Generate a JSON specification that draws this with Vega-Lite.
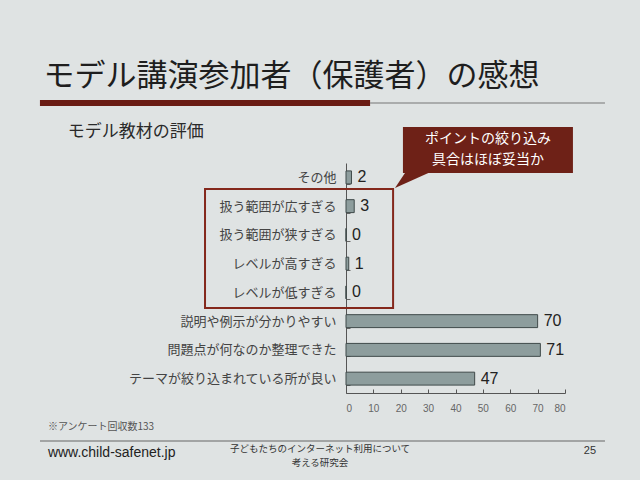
{
  "$schema": "https://vega.github.io/schema/vega-lite/v6.json",
  "width": 219,
  "height": 230,
  "autosize": {"type": "none"},
  "padding": {"left": 346, "top": 163, "right": 75, "bottom": 87},
  "background": "#dfe3e3",
  "config": {"view": {"stroke": null}, "font": "Noto Sans CJK JP", "axisX": {"tickCount": 9, "labelOverlap": false}},
  "resolve": {"scale": {"y": "independent"}},
  "layer": [
    {
      "data": {
        "values": [
          {"item": "その他", "count": 2},
          {"item": "扱う範囲が広すぎる", "count": 3},
          {"item": "扱う範囲が狭すぎる", "count": 0},
          {"item": "レベルが高すぎる", "count": 1},
          {"item": "レベルが低すぎる", "count": 0},
          {"item": "説明や例示が分かりやすい", "count": 70},
          {"item": "問題点が何なのか整理できた", "count": 71},
          {"item": "テーマが絞り込まれている所が良い", "count": 47}
        ]
      },
      "encoding": {
        "y": {
          "field": "item", "type": "nominal", "sort": null,
          "scale": {"paddingInner": 0.55, "paddingOuter": 0.275},
          "axis": {"title": null, "labelFontSize": 13, "labelColor": "#444", "labelFont": "Noto Sans CJK JP",
                   "tickSize": -4, "tickColor": "#666", "domainColor": "#555", "tickBand": "extent",
                   "labelPadding": 14, "labelLimit": 300}
        },
        "x": {
          "field": "count", "type": "quantitative",
          "scale": {"domain": [0, 80]},
          "axis": {"title": null, "values": [0, 10, 20, 30, 40, 50, 60, 70, 80], "tickCount": 9, "grid": false, "labelOverlap": false,
                   "labelFontSize": 10, "labelColor": "#666", "labelFont": "Liberation Sans",
                   "tickSize": -4, "tickColor": "#555", "domainColor": "#555", "labelPadding": 14}
        }
      },
      "layer": [
        {"mark": {"type": "bar", "fill": "#8d9d9d", "stroke": "#3f4a4a", "strokeWidth": 1}},
        {"mark": {"type": "text", "align": "left", "baseline": "middle", "dx": 6, "font": "Liberation Sans", "fontSize": 16, "color": "#222"},
         "encoding": {"text": {"field": "count", "type": "quantitative"}}}
      ]
    },
    {
      "layer": [
        {
          "data": {"values": [{}]},
          "mark": {"type": "rule", "color": "#6a1c14", "strokeWidth": 6, "strokeCap": "butt"},
          "encoding": {
            "x": {"datum": -111.8, "type": "quantitative", "scale": {"domain": [0, 80]}, "title": null},
            "x2": {"datum": 8.8},
            "y": {"datum": -2.087, "type": "quantitative", "scale": {"domain": [0, 8], "reverse": true}, "axis": null}
          }
        },
        {
          "data": {"values": [{}]},
          "mark": {"type": "rule", "color": "#777", "strokeWidth": 1.2},
          "encoding": {
            "x": {"datum": 8.8, "type": "quantitative", "scale": {"domain": [0, 80]}, "title": null},
            "x2": {"datum": 94.6},
            "y": {"datum": -2.087, "type": "quantitative", "scale": {"domain": [0, 8], "reverse": true}, "axis": null}
          }
        },
        {
          "data": {"values": [{}]},
          "mark": {"type": "rule", "color": "#666", "strokeWidth": 1.2},
          "encoding": {
            "x": {"datum": -111.8, "type": "quantitative", "scale": {"domain": [0, 80]}, "title": null},
            "x2": {"datum": 94.6},
            "y": {"datum": 9.67, "type": "quantitative", "scale": {"domain": [0, 8], "reverse": true}, "axis": null}
          }
        },
        {
          "data": {"values": [{"t": "モデル講演参加者（保護者）の感想"}]},
          "mark": {"type": "text", "align": "left", "baseline": "middle", "fontSize": 31, "color": "#1e1e1e"},
          "encoding": {
            "x": {"datum": -110.5, "type": "quantitative", "scale": {"domain": [0, 80]}, "title": null},
            "y": {"datum": -3.0, "type": "quantitative", "scale": {"domain": [0, 8], "reverse": true}, "axis": null},
            "text": {"field": "t"}
          }
        },
        {
          "data": {"values": [{"t": "モデル教材の評価"}]},
          "mark": {"type": "text", "align": "left", "baseline": "middle", "fontSize": 17, "color": "#2a2a2a"},
          "encoding": {
            "x": {"datum": -101.6, "type": "quantitative", "scale": {"domain": [0, 80]}, "title": null},
            "y": {"datum": -1.07, "type": "quantitative", "scale": {"domain": [0, 8], "reverse": true}, "axis": null},
            "text": {"field": "t"}
          }
        },
        {
          "data": {"values": [{}]},
          "mark": {"type": "rect", "color": "#6e2117"},
          "encoding": {
            "x": {"datum": 20.8, "type": "quantitative", "scale": {"domain": [0, 80]}, "title": null},
            "x2": {"datum": 82.9},
            "y": {"datum": -1.252, "type": "quantitative", "scale": {"domain": [0, 8], "reverse": true}, "axis": null},
            "y2": {"datum": 0.348}
          }
        },
        {
          "data": {"values": [{}]},
          "mark": {"type": "point", "shape": "M-1,0.4L-0.4,-0.5L1,-0.5Z", "filled": true, "color": "#6e2117", "opacity": 1, "size": 1600, "strokeWidth": 0},
          "encoding": {
            "x": {"datum": 25.2, "type": "quantitative", "scale": {"domain": [0, 80]}, "title": null},
            "y": {"datum": 0.591, "type": "quantitative", "scale": {"domain": [0, 8], "reverse": true}, "axis": null}
          }
        },
        {
          "data": {"values": [{"t": "ポイントの絞り込み"}]},
          "mark": {"type": "text", "align": "center", "baseline": "middle", "fontSize": 14, "color": "#ffffff"},
          "encoding": {
            "x": {"datum": 51.9, "type": "quantitative", "scale": {"domain": [0, 80]}, "title": null},
            "y": {"datum": -0.83, "type": "quantitative", "scale": {"domain": [0, 8], "reverse": true}, "axis": null},
            "text": {"field": "t"}
          }
        },
        {
          "data": {"values": [{"t": "具合はほぼ妥当か"}]},
          "mark": {"type": "text", "align": "center", "baseline": "middle", "fontSize": 14, "color": "#ffffff"},
          "encoding": {
            "x": {"datum": 51.9, "type": "quantitative", "scale": {"domain": [0, 80]}, "title": null},
            "y": {"datum": -0.1, "type": "quantitative", "scale": {"domain": [0, 8], "reverse": true}, "axis": null},
            "text": {"field": "t"}
          }
        },
        {
          "data": {"values": [{}]},
          "mark": {"type": "rect", "fill": null, "fillOpacity": 0, "stroke": "#84281c", "strokeWidth": 2},
          "encoding": {
            "x": {"datum": -51.5, "type": "quantitative", "scale": {"domain": [0, 80]}, "title": null},
            "x2": {"datum": 17.2},
            "y": {"datum": 0.904, "type": "quantitative", "scale": {"domain": [0, 8], "reverse": true}, "axis": null},
            "y2": {"datum": 5.043}
          }
        },
        {
          "data": {"values": [{"t": "※アンケート回収数133"}]},
          "mark": {"type": "text", "align": "left", "baseline": "middle", "fontSize": 10, "color": "#555"},
          "encoding": {
            "x": {"datum": -108.9, "type": "quantitative", "scale": {"domain": [0, 80]}, "title": null},
            "y": {"datum": 9.18, "type": "quantitative", "scale": {"domain": [0, 8], "reverse": true}, "axis": null},
            "text": {"field": "t"}
          }
        },
        {
          "data": {"values": [{"t": "www.child-safenet.jp"}]},
          "mark": {"type": "text", "align": "left", "baseline": "middle", "fontSize": 14, "font": "Liberation Sans", "color": "#222"},
          "encoding": {
            "x": {"datum": -108.9, "type": "quantitative", "scale": {"domain": [0, 80]}, "title": null},
            "y": {"datum": 10.09, "type": "quantitative", "scale": {"domain": [0, 8], "reverse": true}, "axis": null},
            "text": {"field": "t"}
          }
        },
        {
          "data": {"values": [{"t": "子どもたちのインターネット利用について"}]},
          "mark": {"type": "text", "align": "center", "baseline": "middle", "fontSize": 9.5, "color": "#333"},
          "encoding": {
            "x": {"datum": -9.5, "type": "quantitative", "scale": {"domain": [0, 80]}, "title": null},
            "y": {"datum": 9.96, "type": "quantitative", "scale": {"domain": [0, 8], "reverse": true}, "axis": null},
            "text": {"field": "t"}
          }
        },
        {
          "data": {"values": [{"t": "考える研究会"}]},
          "mark": {"type": "text", "align": "center", "baseline": "middle", "fontSize": 9.5, "color": "#333"},
          "encoding": {
            "x": {"datum": -9.5, "type": "quantitative", "scale": {"domain": [0, 80]}, "title": null},
            "y": {"datum": 10.44, "type": "quantitative", "scale": {"domain": [0, 8], "reverse": true}, "axis": null},
            "text": {"field": "t"}
          }
        },
        {
          "data": {"values": [{"t": "25"}]},
          "mark": {"type": "text", "align": "center", "baseline": "middle", "fontSize": 11, "font": "Liberation Sans", "color": "#333"},
          "encoding": {
            "x": {"datum": 89.1, "type": "quantitative", "scale": {"domain": [0, 80]}, "title": null},
            "y": {"datum": 10.02, "type": "quantitative", "scale": {"domain": [0, 8], "reverse": true}, "axis": null},
            "text": {"field": "t"}
          }
        }
      ]
    }
  ]
}
